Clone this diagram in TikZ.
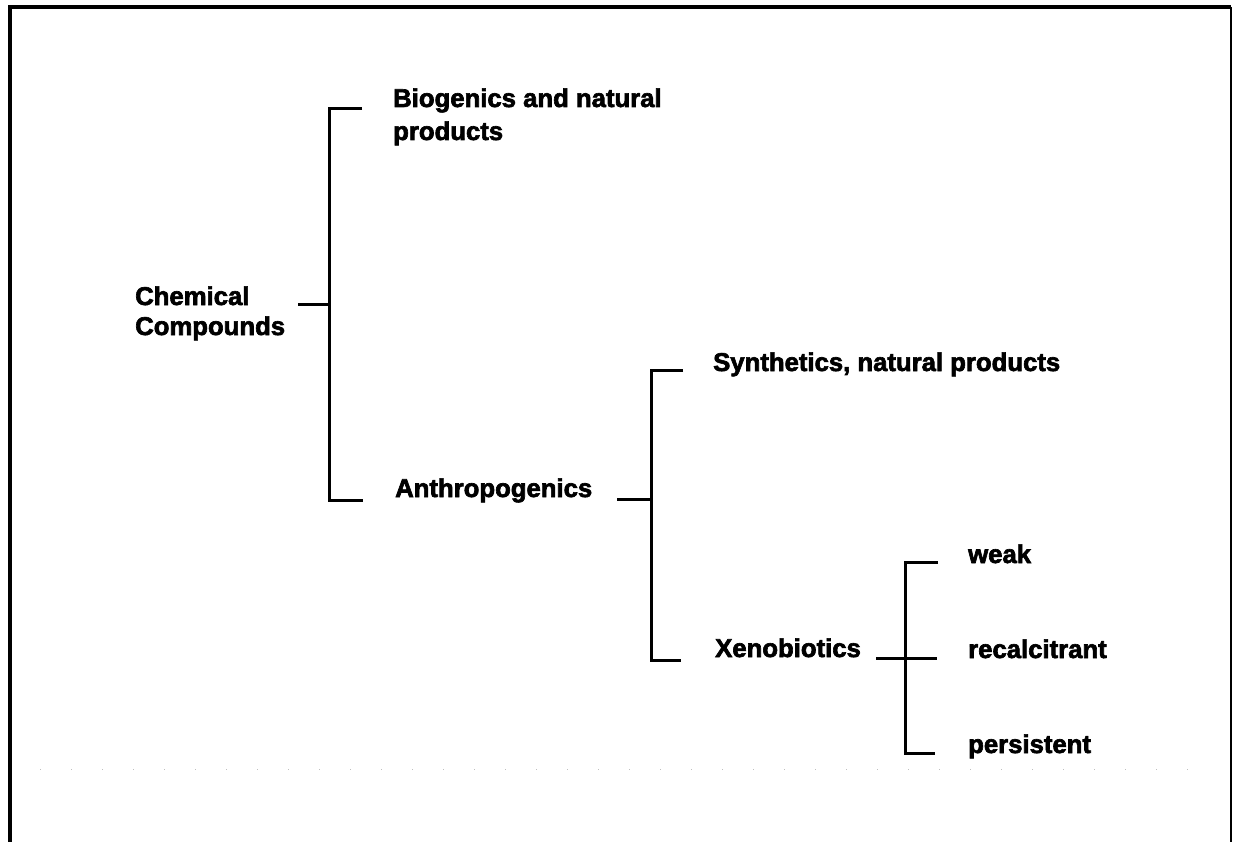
\documentclass[tikz,border=0pt]{standalone}
\usepackage{fontspec}
\setmainfont{Liberation Sans}
\newfontfamily\heavyfont{Liberation Sans Bold}[FakeBold=2.5]
\begin{document}
\begin{tikzpicture}[x=1pt,y=-1pt,
  lbl/.style={anchor=base west,inner sep=0pt,font=\fontsize{25.7}{30}\heavyfont},
  tree/.style={line width=3pt,line cap=butt,line join=miter},
  frame/.style={line width=3.5pt}]
\useasboundingbox (0,0) rectangle (1233,842);
% frame
\draw[frame] (10,842) -- (10,7) -- (1231,7);
\draw[line width=2pt] (1231,7) -- (1231,842);
\draw[gray!50,line width=1pt,dash pattern=on 1pt off 30pt] (40,769) -- (1200,769);
% labels
\node[lbl] (chemA) at (135,305) {Chemical};
\node[lbl] (chemB) at (135,335) {Compounds};
\node[lbl] (bio1) at (393,107) {Biogenics and natural};
\node[lbl] (bio2) at (393,140) {products};
\node[lbl] (anth) at (395,497) {Anthropogenics};
\node[lbl] (syn) at (713,371) {Synthetics, natural products};
\node[lbl] (xeno) at (715,657) {Xenobiotics};
\node[lbl] (weak) at (968,563) {weak};
\node[lbl] (recal) at (968,658) {recalcitrant};
\node[lbl] (pers) at (968,753) {persistent};
% junction coordinates
\coordinate (s1t) at (329,109);
\coordinate (s1m) at (329,304);
\coordinate (s1b) at (329,500);
\coordinate (s2t) at (651,370);
\coordinate (s2m) at (651,499);
\coordinate (s2b) at (651,660);
\coordinate (s3t) at (905,562);
\coordinate (s3m) at (905,658);
\coordinate (s3b) at (905,753);
% tree 1
\draw[tree] ([xshift=-31pt]bio1.base west |- s1t) -- (s1t) -- (s1b) -- ([xshift=-32pt]anth.base west |- s1b);
\draw[tree] (s1m) -- ([xshift=13pt]chemB.base east |- s1m);
% tree 2
\draw[tree] ([xshift=-30pt]syn.base west |- s2t) -- (s2t) -- (s2b) -- ([xshift=-34pt]xeno.base west |- s2b);
\draw[tree] (s2m) -- ([xshift=25pt]anth.base east |- s2m);
% tree 3
\draw[tree] ([xshift=-30pt]weak.base west |- s3t) -- (s3t) -- (s3b) -- ([xshift=-33pt]pers.base west |- s3b);
\draw[tree] ([xshift=15pt]xeno.base east |- s3m) -- ([xshift=-31pt]recal.base west |- s3m);
\end{tikzpicture}
\end{document}
